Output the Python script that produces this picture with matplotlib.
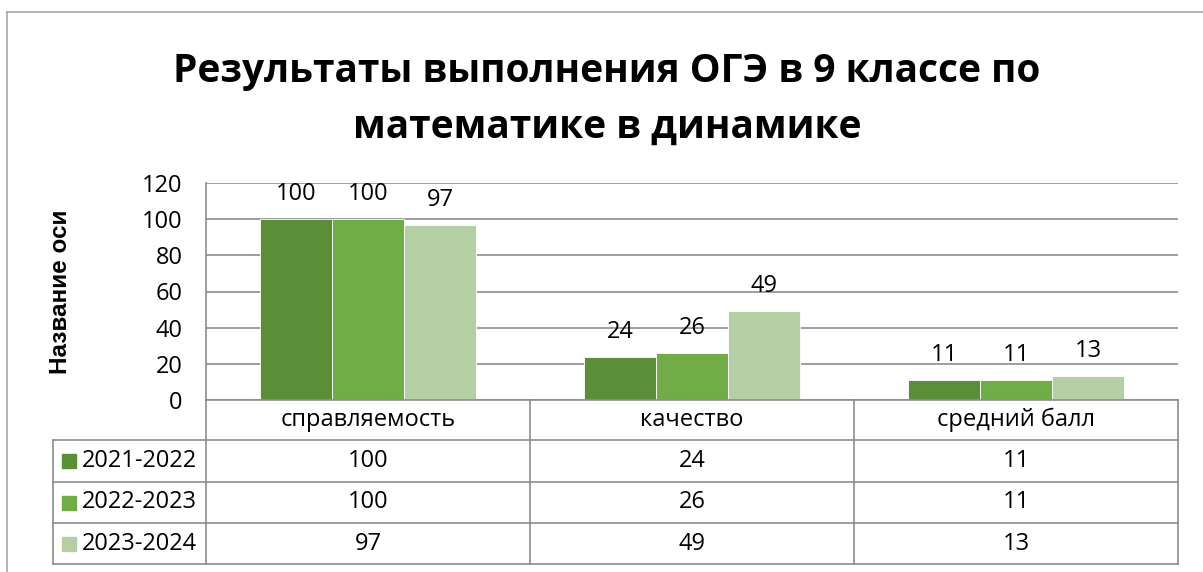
import numpy as np
import matplotlib
matplotlib.use('Agg')
import matplotlib.pyplot as plt
from matplotlib.lines import Line2D
from matplotlib.patches import Rectangle

plt.rcParams['font.family'] = ['Open Sans', 'DejaVu Sans']

# data
categories = ['справляемость', 'качество', 'средний балл']
years = ['2021-2022', '2022-2023', '2023-2024']
vals_2122 = [100, 24, 11]
vals_2223 = [100, 26, 11]
vals_2324 = [97, 49, 13]
series = [vals_2122, vals_2223, vals_2324]
colors = ['#5B8E39', '#70AD47', '#B4CFA3']
title = 'Результаты выполнения ОГЭ в 9 классе по\nматематике в динамике'
ylabel = 'Название оси'

W, H = 1203, 572
fig = plt.figure(figsize=(W / 100, H / 100), dpi=100)

# pixel -> figure coords
def fx(px):
    return px / W

def fy(py):
    return 1 - py / H

line_col = '#8C8C8C'
fs = 17

# outer chart border
fig.add_artist(Line2D([fx(7), fx(7)], [fy(12), 0], color='#A6A6A6', lw=1.2))
fig.add_artist(Line2D([fx(7), 1], [fy(12), fy(12)], color='#A6A6A6', lw=1.2))

# plot area
x0, x1 = 206, 1178
ytop, ybot = 183, 400
ax = fig.add_axes([fx(x0), fy(ybot), fx(x1) - fx(x0), fy(ytop) - fy(ybot)])

xc = np.arange(len(categories)) + 0.5
bw = 72 / 324
for i, vals in enumerate(series):
    xs = xc + (i - 1) * bw
    ax.bar(xs, vals, width=bw, color=colors[i], edgecolor='white', linewidth=0.6, zorder=3)
    for x, v in zip(xs, vals):
        ax.annotate(str(v), (x, v), xytext=(0, 18), textcoords='offset points',
                    ha='center', va='center', fontsize=fs, color='black')

ax.set_xlim(0, 3)
ax.set_ylim(0, 120)
ax.set_yticks(range(0, 121, 20))
ax.set_xticks([])
ax.yaxis.grid(True, color=line_col, lw=1.2)
ax.set_axisbelow(True)
for s in ['top', 'right', 'bottom']:
    ax.spines[s].set_visible(False)
ax.spines['left'].set_color(line_col)
ax.spines['left'].set_linewidth(1.2)
ax.tick_params(axis='y', length=0, pad=17, labelsize=fs)

fig.text(fx(607), fy(99), title, ha='center', va='center', fontsize=28,
         fontweight='bold', linespacing=1.55)
fig.text(fx(61), fy(292), ylabel, ha='center', va='center', rotation=90,
         fontsize=17.5, fontweight='bold', family=['Liberation Sans', 'DejaVu Sans'])

# data table
col_x = [206, 530, 854, 1178]
row_y = [400, 440, 482, 523, 564]
tl = dict(color=line_col, lw=1.2)
for x in col_x:
    fig.add_artist(Line2D([fx(x), fx(x)], [fy(row_y[0]), fy(row_y[-1])], **tl))
fig.add_artist(Line2D([fx(53), fx(53)], [fy(row_y[1]), fy(row_y[-1])], **tl))
fig.add_artist(Line2D([fx(206), fx(1178)], [fy(row_y[0]), fy(row_y[0])], **tl))
for y in row_y[1:]:
    fig.add_artist(Line2D([fx(53), fx(1178)], [fy(y), fy(y)], **tl))

for j, cat in enumerate(categories):
    cx = (col_x[j] + col_x[j + 1]) / 2
    fig.text(fx(cx), fy((row_y[0] + row_y[1]) / 2), cat, ha='center', va='center', fontsize=fs)

for i, vals in enumerate(series):
    cy = (row_y[i + 1] + row_y[i + 2]) / 2
    fig.add_artist(Rectangle((fx(62), fy(cy + 7)), fx(14), 14 / H, color=colors[i]))
    fig.text(fx(82), fy(cy), years[i], ha='left', va='center', fontsize=fs)
    for j, v in enumerate(vals):
        cx = (col_x[j] + col_x[j + 1]) / 2
        fig.text(fx(cx), fy(cy), str(v), ha='center', va='center', fontsize=fs)

fig.savefig('out.png', dpi=100)
